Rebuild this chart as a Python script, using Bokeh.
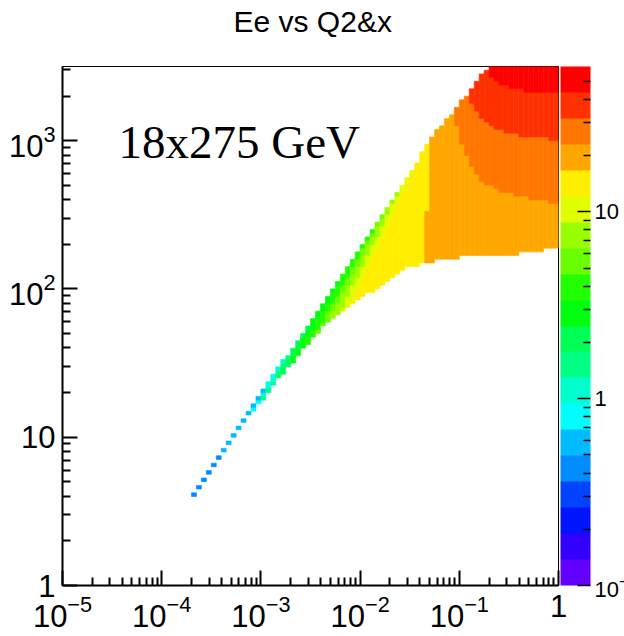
import numpy as np
from bokeh.plotting import figure
from bokeh.models import (Range1d, FixedTicker, LogTickFormatter, Label, ColumnDataSource,
                          ColorBar, LogColorMapper, Title)
from bokeh.embed import file_html
from bokeh.resources import INLINE

# ---------------------------------------------------------------- texts
title_text = "Ee vs Q2&x"
beam_label = "18x275 GeV"

# ---------------------------------------------------------------- scales
z_min, z_max, n_contours = 0.1, 60.0, 20          # log colour scale, 20 contours
x_bins, x_min, x_max = 100, 1e-5, 1.0             # 20 bins / decade
q2_bins, q2_min, q2_max = 140, 1.0, 10 ** 3.5     # 40 bins / decade

x_major = [1e-5, 1e-4, 1e-3, 1e-2, 1e-1, 1.0]
q2_major = [1.0, 10.0, 100.0, 1000.0]
z_major = [0.1, 1.0, 10.0]

# ---------------------------------------------------------------- data
# isolated single cells along the y=1 line at low x: x, Q2, mean Ee [GeV]
dot_x = [2.11e-4, 2.37e-4, 2.66e-4, 2.99e-4, 3.35e-4, 3.76e-4,
         4.22e-4, 4.73e-4, 5.31e-4, 5.96e-4, 6.68e-4, 7.50e-4]
dot_q2 = [4.06, 4.57, 5.18, 5.77, 6.53, 7.29, 8.17, 9.25, 10.3, 11.6, 13.0, 14.5]
dot_ee = [0.42, 0.42, 0.42, 0.42, 0.42, 0.42, 0.58, 0.58, 0.58, 0.58, 0.58, 0.58]

# outline of the filled region
upper_x = [7.94e-4, 1.0e-2, 6.03e-2, 0.120, 0.1905, 0.209]
upper_q2 = [15.5, 191.0, 1175.0, 2042.0, 3090.0, 3631.0]
lower_x = [7.94e-4, 1.26e-3, 2.51e-3, 5.01e-3, 9.33e-3, 1.62e-2,
           2.75e-2, 4.37e-2, 8.13e-2, 0.260, 0.560, 0.977]
lower_q2 = [14.1, 21.4, 37.2, 63.1, 83.2, 105.0, 135.0, 150.0, 162.0, 170.0, 175.0, 192.0]

# diagonal strip: mean Ee reached right of a line from the lower edge (lo) to the upper edge (hi)
strip_base_ee = 0.58
strip_ee = [0.80, 1.10, 1.52, 2.09, 2.89, 3.98, 5.49, 7.6, 10.5, 14.4]
strip_lo_x = [7.08e-4, 8.32e-4, 1.00e-3, 1.32e-3, 1.78e-3, 2.51e-3, 3.55e-3, 4.79e-3, 6.31e-3, 7.94e-3]
strip_lo_q2 = [12.6, 14.7, 17.4, 22.3, 28.2, 37.2, 48.5, 61.0, 70.5, 77.6]
strip_hi_x = [1.12e-3, 1.58e-3, 2.09e-3, 2.82e-3, 4.17e-3, 7.94e-3, 1.82e-2, 2.29e-2, 2.88e-2, 3.89e-2]
strip_hi_q2 = [21.9, 30.9, 40.7, 55.0, 81.3, 155.0, 355.0, 447.0, 562.0, 759.0]

# high-x region: orange right of an (almost vertical) edge, then bands above curves
highx_ee = 19.9
highx_edge_x = [4.37e-2, 5.25e-2]
highx_edge_q2 = [148.0, 955.0]
band17_ee = 27.5
band17_x = [0.0841, 0.1028, 0.1247, 0.1637, 0.241, 0.414, 0.933]
band17_q2 = [1622.0, 1023.0, 708.0, 531.0, 467.0, 421.0, 380.0]
band18_ee = 37.9
band18_x = [0.120, 0.140, 0.164, 0.223, 0.355, 0.933]
band18_q2 = [2089.0, 1698.0, 1445.0, 1202.0, 1096.0, 1016.0]
band19_ee = 52.3
band19_x = [0.197, 0.216, 0.279, 0.414, 0.955]
band19_q2 = [2884.0, 2570.0, 2344.0, 2188.0, 2089.0]

# ---------------------------------------------------------------- ROOT "pretty" palette
def _hls(h):
    h = h % 360.0
    if h < 60:
        return h / 60.0
    if h < 180:
        return 1.0
    if h < 240:
        return (240.0 - h) / 60.0
    return 0.0

palette = []
for k in range(n_contours):
    j = int((k + 0.99) * 50 / n_contours)
    hue = 280.0 - (j + 1) * 5.6
    r, g, b = _hls(hue + 120), _hls(hue), _hls(hue - 120)
    palette.append("#%02x%02x%02x" % (round(r * 255), round(g * 255), round(b * 255)))

L = np.log10
dl = (L(z_max) - L(z_min)) / n_contours

def level_of(ee):
    return np.clip(np.floor((L(np.asarray(ee)) - L(z_min)) / dl).astype(int), 0, n_contours - 1)

# ---------------------------------------------------------------- histogram cells
lxe = np.linspace(L(x_min), L(x_max), x_bins + 1)
lqe = np.linspace(L(q2_min), L(q2_max), q2_bins + 1)
x_edges, q_edges = 10 ** lxe, 10 ** lqe
LX, LQ = np.meshgrid(0.5 * (lxe[:-1] + lxe[1:]), 0.5 * (lqe[:-1] + lqe[1:]))

def inside(px, py, vx, vy):
    res = np.zeros(px.shape, dtype=bool)
    n = len(vx)
    j = n - 1
    for i in range(n):
        xi, yi, xj, yj = vx[i], vy[i], vx[j], vy[j]
        if yi != yj:
            cond = (yi > py) != (yj > py)
            xint = (xj - xi) * (py - yi) / (yj - yi) + xi
            res ^= cond & (px < xint)
        j = i
    return res

FAR_LO, FAR_HI, FAR_R = -3.0, 6.0, 2.0

def right_of(x0, q0, x1, q1):
    a, b, c, d = L(x0), L(q0), L(x1), L(q1)
    return [a, a, c, c, FAR_R, FAR_R], [FAR_LO, b, d, FAR_HI, FAR_HI, FAR_LO]

def above(xs, qs):
    lx, lq = list(L(np.array(xs))), list(L(np.array(qs)))
    return [lx[0]] + lx + [FAR_R, FAR_R], [FAR_HI] + lq + [lq[-1], FAR_HI]

ux, uq = list(L(np.array(upper_x))), list(L(np.array(upper_q2)))
wx, wq = list(L(np.array(lower_x))), list(L(np.array(lower_q2)))
outer_x = ux + [ux[-1], FAR_R, FAR_R] + wx[::-1]
outer_q = uq + [FAR_HI, FAR_HI, wq[-1]] + wq[::-1]

regions = [(e, right_of(a, b, c, d)) for e, a, b, c, d in
           zip(strip_ee, strip_lo_x, strip_lo_q2, strip_hi_x, strip_hi_q2)]
regions.append((highx_ee, right_of(highx_edge_x[0], highx_edge_q2[0], highx_edge_x[1], highx_edge_q2[1])))
regions.append((band17_ee, above(band17_x, band17_q2)))
regions.append((band18_ee, above(band18_x, band18_q2)))
regions.append((band19_ee, above(band19_x, band19_q2)))

EE = np.full(LX.shape, strip_base_ee)
for e, (vx, vy) in regions:
    EE[inside(LX, LQ, vx, vy)] = e
mask = inside(LX, LQ, outer_x, outer_q)
LV = level_of(EE)

cells = dict(left=[], right=[], bottom=[], top=[], color=[])

def add_cell(i, j0, j1, lev):
    cells["left"].append(x_edges[i]); cells["right"].append(x_edges[i + 1])
    cells["bottom"].append(q_edges[j0]); cells["top"].append(q_edges[j1 + 1])
    cells["color"].append(palette[lev])

for i in range(x_bins):
    col = np.where(mask[:, i])[0]
    if col.size == 0:
        continue
    start = prev = col[0]
    for j in col[1:]:
        if j != prev + 1 or LV[j, i] != LV[start, i]:
            add_cell(i, start, prev, LV[start, i])
            start = j
        prev = j
    add_cell(i, start, prev, LV[start, i])

for xv, qv, ev in zip(dot_x, dot_q2, dot_ee):
    i = int(np.searchsorted(x_edges, xv)) - 1
    j = int(np.searchsorted(q_edges, qv)) - 1
    add_cell(i, j, j, int(level_of(ev)))

# ---------------------------------------------------------------- figure
p = figure(width=624, height=636, x_axis_type="log", y_axis_type="log",
           x_range=Range1d(x_min, x_max), y_range=Range1d(q2_min, q2_max),
           output_backend="svg", toolbar_location=None,
           min_border_left=62, min_border_right=66, min_border_top=66, min_border_bottom=51)
p.quad(left="left", right="right", bottom="bottom", top="top", source=ColumnDataSource(cells),
       fill_color="color", line_color="color", line_width=0.6)

# title: a blank spacer panel next to the frame, then the title text above it
p.title.text = ""
p.add_layout(Title(text=" ", text_font_size="10px", standoff=14), "above")
p.add_layout(Title(text=title_text, text_font="Liberation Sans", text_font_size="30px",
                   text_font_style="normal", text_color="black", align="left", offset=171,
                   vertical_align="top", standoff=0), "above")

p.xgrid.visible = False
p.ygrid.visible = False
p.outline_line_color = "black"
p.outline_line_width = 1
p.background_fill_color = "white"
p.border_fill_color = "white"

p.xaxis[0].ticker = FixedTicker(ticks=x_major,
                                minor_ticks=[m * 10.0 ** e for e in range(-5, 0) for m in range(2, 10)])
p.yaxis[0].ticker = FixedTicker(ticks=q2_major,
                                minor_ticks=[m * 10.0 ** e for e in range(0, 4) for m in range(2, 10)
                                             if m * 10.0 ** e < q2_max])
p.xaxis[0].formatter = LogTickFormatter()
p.yaxis[0].formatter = LogTickFormatter()
p.xaxis[0].major_label_overrides = {1.0: "1"}
p.yaxis[0].major_label_overrides = {1.0: "1", 10.0: "10"}

for ax in (p.xaxis[0], p.yaxis[0]):
    ax.axis_line_width = 2
    ax.axis_line_color = "black"
    ax.major_tick_in = 15
    ax.major_tick_out = 0
    ax.minor_tick_in = 8
    ax.minor_tick_out = 0
    ax.major_tick_line_width = 2
    ax.minor_tick_line_width = 2
    ax.major_tick_line_color = "black"
    ax.minor_tick_line_color = "black"
    ax.major_label_text_font = "Liberation Sans"
    ax.major_label_text_font_size = "31px"
    ax.major_label_text_color = "black"
p.xaxis[0].major_label_standoff = 9
p.yaxis[0].major_label_standoff = 7

# beam-energy label inside the frame
p.add_layout(Label(x=3.67e-5, y=984.0, text=beam_label,
                   text_font="Liberation Serif", text_font_size="47px",
                   text_color="black", text_baseline="middle", text_align="left"))

# ---------------------------------------------------------------- colour bar (palette axis)
mapper = LogColorMapper(palette=palette, low=z_min, high=z_max)
cbar = ColorBar(color_mapper=mapper, orientation="vertical",
                width=30, height=519, location=(498, 0), padding=0, margin=0,
                ticker=FixedTicker(ticks=z_major,
                                   minor_ticks=[m * 10.0 ** e for e in (-1, 0, 1) for m in range(2, 10)
                                                if m * 10.0 ** e < z_max]),
                formatter=LogTickFormatter(),
                major_label_overrides={1.0: "1", 10.0: "10"},
                major_tick_in=13, major_tick_out=0, minor_tick_in=7, minor_tick_out=0,
                major_tick_line_color="black", minor_tick_line_color="black",
                major_tick_line_width=1.5, minor_tick_line_width=1.5,
                major_label_text_font="Liberation Sans", major_label_text_font_size="22px",
                major_label_text_color="black", label_standoff=4,
                bar_line_color=None, border_line_color=None, background_fill_color=None)
p.add_layout(cbar)

open("out.html", "w").write(file_html(p, INLINE))
